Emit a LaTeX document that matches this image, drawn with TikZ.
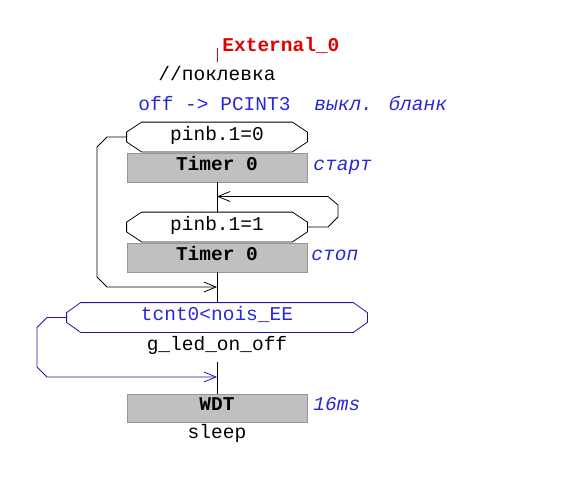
\documentclass[tikz,border=0pt]{standalone}
\usepackage{fontspec}
\setmainfont{Liberation Mono}
\setmonofont{Liberation Mono}
\usetikzlibrary{arrows.meta}

\definecolor{txtblue}{RGB}{40,40,215}
\definecolor{lineblue}{RGB}{25,25,165}
\definecolor{extred}{RGB}{225,0,0}
\definecolor{boxgray}{RGB}{192,192,192}
\definecolor{boxedge}{RGB}{150,150,150}

% octagon outline round a named node: {name}{dx}{dy}
\newcommand{\octline}[3]{%
  ([xshift=#2]#1.north west) -- ([xshift=-#2]#1.north east) --
  ([yshift=-#3]#1.north east) -- ([yshift=#3]#1.south east) --
  ([xshift=-#2]#1.south east) -- ([xshift=#2]#1.south west) --
  ([yshift=#3]#1.south west) -- ([yshift=-#3]#1.north west) -- cycle}

\begin{document}
\begin{tikzpicture}[x=1pt, y=-1pt, line width=0.8pt,
    every node/.style={font=\fontsize{19.5}{22}\selectfont, inner sep=0pt},
    lbl/.style={anchor=base west},
    mid/.style={anchor=base},
    note/.style={anchor=base west, text=txtblue, font=\fontsize{19.5}{22}\selectfont\itshape},
    timerbox/.style={draw=boxedge, fill=boxgray, minimum width=180pt, minimum height=29pt,
      text height=5pt, text depth=0pt, font=\fontsize{19.5}{22}\selectfont\bfseries},
    octbox/.style={minimum height=29pt, text height=6pt, text depth=0pt},
    flow/.style={-{Straight Barb[length=12pt, width=10pt]}}]

  \fill[white] (0,0) rectangle (573,496);
  \useasboundingbox (0,0) rectangle (573,496);

  % --- header ---
  \draw[extred] (217,48) -- (217,62);
  \node[lbl, text=extred, font=\fontsize{19.5}{22}\selectfont\bfseries] (ext) at (222,51) {External\_0};
  \node[mid] (cmt) at (217,80) {//поклевка};
  \node[lbl, text=txtblue] (pcint) at (138,110) {off -> PCINT3};
  \node[note] (blank) at (314,110) {выкл. бланк};

  % --- wait for pinb.1=0, start timer ---
  \node[octbox, minimum width=180pt] (pin0) at (217,137) {pinb.1=0};
  \draw \octline{pin0}{15pt}{10pt};
  \node[timerbox] (tim1) at (217,167.5) {Timer 0};
  \node[note] (start) at (313,170) {старт};

  % --- wait for pinb.1=1, stop timer ---
  \node[octbox, minimum width=180pt] (pin1) at (217,227) {pinb.1=1};
  \draw \octline{pin1}{15pt}{10pt};
  \node[timerbox] (tim2) at (217,257.5) {Timer 0};
  \node[note] (stop) at (311,260) {стоп};

  % --- noise check ---
  \node[octbox, minimum width=300pt, text=txtblue] (tcnt) at (217,317.5) {tcnt0<nois\_EE};
  \draw[lineblue] \octline{tcnt}{14pt}{10pt};
  \node[mid] (gled) at (217,350) {g\_led\_on\_off};

  % --- watchdog ---
  \node[timerbox, minimum height=28pt] (wdt) at (217,408) {WDT};
  \node[note] (ms) at (313,410) {16ms};
  \node[mid] (sleep) at (217,438) {sleep};

  % junctions on the main line
  \coordinate (j0) at (217,196.5);
  \coordinate (j1) at (217,287);
  \coordinate (j2) at (217,377);

  % main line
  \draw (tim1.south) -- (pin1.north);
  \draw (tim2.south) -- (tcnt.north);
  \draw ([yshift=-8pt]gled.south) -- (wdt.north);

  % loops back
  \draw[flow] (pin1.east) -- (328,227) -- (338,217) -- (338,205) -- (328,196.5) -- (j0);
  \draw[flow] (pin0.west) -- (107,137) -- (97,147) -- (97,277) -- (107,287) -- (j1);
  \draw[flow, lineblue] (tcnt.west) -- (47,317.5) -- (37,327.5) -- (37,367) -- (47,377) -- (j2);
\end{tikzpicture}
\end{document}
